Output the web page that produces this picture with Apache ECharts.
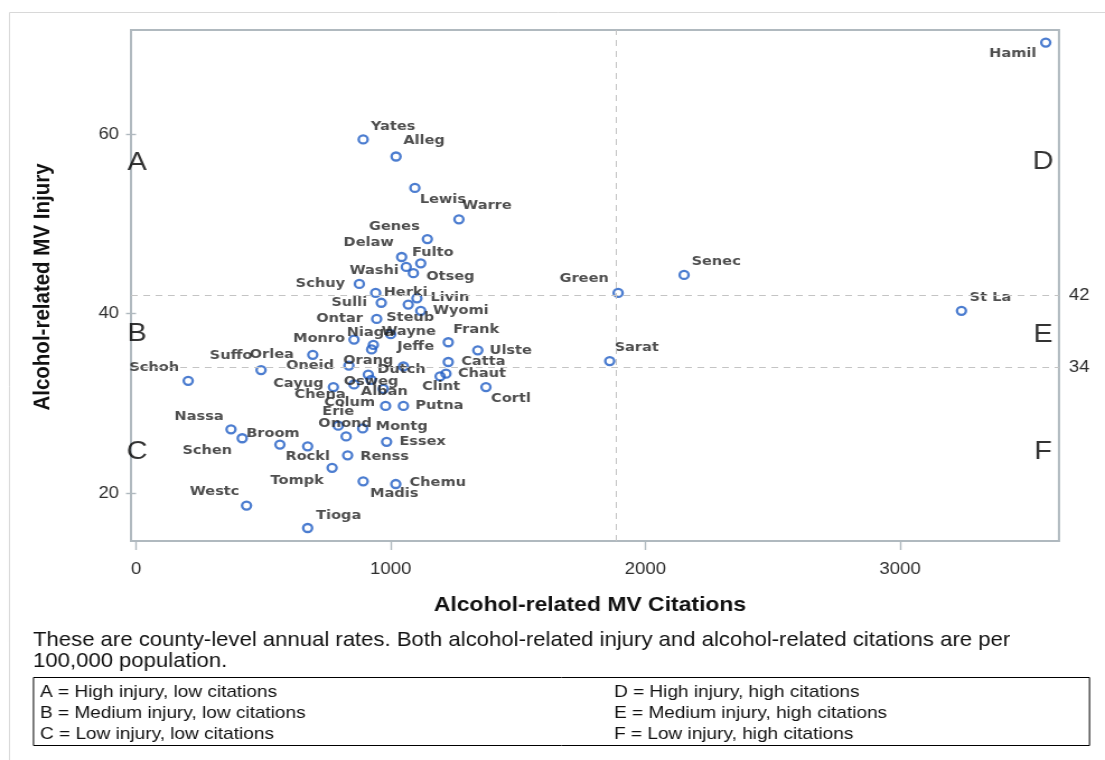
<!DOCTYPE html>
<html>
<head>
<meta charset="utf-8">
<script src="https://cdn.jsdelivr.net/npm/echarts@6/dist/echarts.min.js"></script>
<style>
  html, body { margin: 0; padding: 0; background: #fff; overflow: hidden; }
  /* The figure is drawn on a narrower canvas and widened, giving the wide lettering and oval markers */
  #chart { width: 987px; height: 760px; transform: scaleX(1.119554); transform-origin: 0 0; }
</style>
</head>
<body>
<div id="chart"></div>
<script>
// County abbreviations (New York State counties)
const counties = [
  'Hamil', 'Yates', 'Alleg', 'Lewis', 'Warre', 'Genes', 'Delaw', 'Fulto', 'Washi', 'Otseg',
  'Schuy', 'Herki', 'Livin', 'Sulli', 'Steub', 'Wyomi', 'Ontar', 'Monro', 'Wayne', 'Niaga',
  'Jeffe', 'Frank', 'Ulste', 'Orlea', 'Suffo', 'Schoh', 'Oneid', 'Orang', 'Dutch', 'Catta',
  'Chaut', 'Clint', 'Cortl', 'Osweg', 'Cayug', 'Chena', 'Alban', 'Colum', 'Putna', 'Erie',
  'Onond', 'Montg', 'Nassa', 'Schen', 'Broom', 'Rockl', 'Essex', 'Renss', 'Tompk', 'Madis',
  'Chemu', 'Westc', 'Tioga', 'Green', 'Senec', 'St La', 'Sarat'
];

// Alcohol-related MV citations per 100,000 population
const citations = [
  3572, 892, 1021, 1095, 1268, 1144, 1043, 1118, 1061, 1089,
  877, 941, 1103, 963, 1069, 1118, 945, 856, 1000, 932,
  925, 1226, 1342, 694, 491, 205, 836, 912, 1050, 1226,
  1217, 1194, 1374, 923, 775, 856, 971, 980, 1050, 794,
  825, 890, 373, 417, 565, 674, 984, 831, 770, 892,
  1020, 434, 674, 1893, 2152, 3241, 1860
];

// Alcohol-related MV injury per 100,000 population
const injury = [
  70.2, 59.4, 57.5, 54.0, 50.5, 48.3, 46.3, 45.6, 45.2, 44.5,
  43.3, 42.3, 41.7, 41.2, 41.0, 40.3, 39.4, 37.1, 37.7, 36.5,
  36.0, 36.8, 35.9, 35.4, 33.7, 32.5, 34.2, 33.2, 34.1, 34.6,
  33.3, 33.0, 31.8, 32.6, 31.8, 32.1, 31.6, 29.7, 29.7, 27.5,
  26.3, 27.2, 27.1, 26.1, 25.4, 25.2, 25.7, 24.2, 22.8, 21.3,
  21.0, 18.6, 16.1, 42.3, 44.3, 40.3, 34.7
];

// Where each county name sits relative to its marker (screen px)
const labelShift = [
  [-33, 11], [30, -13], [28, -16], [28, 12], [28, -14], [-33, -12], [-33, -14], [12, -11], [-32, 4], [37, 3],
  [-39, 0], [30, 0], [33, -1], [-32, 0], [2, 13], [40, 0], [-37, 0], [-35, -1], [18, -3], [-3, -12],
  [44, -3], [28, -13], [33, 0], [-41, 0], [-30, -14], [-34, -13], [-39, 0], [0, -14], [-2, 3], [35, 0],
  [36, 0], [1, 10], [25, 12], [0, 2], [-35, -3], [-34, 10], [1, 3], [-36, -3], [36, 0], [0, -14],
  [-1, -13], [39, -2], [-32, -13], [-35, 12], [-7, -11], [0, 10], [36, 0], [37, 1], [-35, 13], [31, 12],
  [42, -1], [-32, -14], [31, -12], [-34, -14], [32, -13], [29, -13], [27, -13]
];

const xTicks = [0, 1000, 2000, 3000];
const yTicks = [20, 40, 60];
const injuryCutoffs = [42, 34];
const citationCutoff = 1885;

// Quadrant letters and their anchor values
const quadrantLetters = ['A', 'B', 'C', 'D', 'E', 'F'];
const quadrantCitations = [4, 4, 4, 3561, 3561, 3561];
const quadrantInjury = [56.8, 37.7, 24.6, 56.9, 37.6, 24.6];

const captionLines = [
  'These are county-level annual rates. Both alcohol-related injury and alcohol-related citations are per',
  '100,000 population.'
];
const legendLeft = [
  'A = High injury, low citations',
  'B = Medium injury, low citations',
  'C = Low injury, low citations'
];
const legendRight = [
  'D = High injury, high citations',
  'E = Medium injury, high citations',
  'F = Low injury, high citations'
];

const X_MIN = -19.6, X_MAX = 3624;
const Y_MIN = 14.65, Y_MAX = 71.6;

// horizontal widening applied by the stylesheet
const STRETCH = 1105 / 987;
const px = v => v / STRETCH;

const frameColor = '#b0b9bf';
const tickText = '#2e2e2e';
const markerBlue = '#1f5dc4';
const labelFont = 'DejaVu Sans';
const textFont = 'Liberation Sans';

const pointData = counties.map((name, i) => ({
  name: name,
  value: [citations[i], injury[i]]
}));

const letterData = quadrantLetters.map((t, i) => ({
  name: t,
  value: [quadrantCitations[i], quadrantInjury[i]]
}));

const chart = echarts.init(document.getElementById('chart'), null, { renderer: 'canvas' });

const legendTexts = [];
legendLeft.forEach((t, i) => legendTexts.push({
  type: 'text', x: px(40), y: 692 + i * 21,
  style: { text: t, font: '17px "' + textFont + '"', fill: '#111', verticalAlign: 'middle' }
}));
legendRight.forEach((t, i) => legendTexts.push({
  type: 'text', x: px(614), y: 692 + i * 21,
  style: { text: t, font: '17px "' + textFont + '"', fill: '#111', verticalAlign: 'middle' }
}));

chart.setOption({
  animation: false,
  backgroundColor: '#ffffff',
  grid: {
    left: px(131), right: 987 - px(1059), top: 30, bottom: 219,
    show: true, borderColor: frameColor, borderWidth: 2, backgroundColor: '#ffffff'
  },
  xAxis: {
    type: 'value', min: X_MIN, max: X_MAX,
    axisLine: { show: false },
    splitLine: { show: false },
    axisTick: { show: true, length: 9, customValues: xTicks, lineStyle: { color: frameColor, width: 1.4 } },
    axisLabel: {
      customValues: xTicks, margin: 20, color: tickText, fontSize: 16.5, fontFamily: textFont,
      formatter: v => String(v)
    }
  },
  yAxis: [{
    type: 'value', min: Y_MIN, max: Y_MAX, position: 'left',
    axisLine: { show: false },
    splitLine: { show: false },
    axisTick: { show: true, length: px(10), customValues: yTicks, lineStyle: { color: frameColor, width: 1.4 } },
    axisLabel: {
      customValues: yTicks, margin: px(12), color: tickText, fontSize: 16.5, fontFamily: textFont,
      formatter: v => String(v)
    }
  }, {
    type: 'value', min: Y_MIN, max: Y_MAX, position: 'right',
    axisLine: { show: false },
    splitLine: { show: false },
    axisTick: { show: false },
    axisLabel: {
      customValues: injuryCutoffs, margin: px(10), color: tickText, fontSize: 16.5, fontFamily: textFont,
      formatter: v => String(v)
    }
  }],
  series: [{
    type: 'scatter',
    name: 'Counties',
    data: pointData,
    symbol: 'circle',
    symbolSize: 8,
    clip: false,
    itemStyle: { color: 'rgba(0,0,0,0)', borderColor: markerBlue, borderWidth: 2.3 },
    label: {
      show: true, position: 'inside', formatter: '{b}',
      align: 'center', verticalAlign: 'middle',
      fontFamily: labelFont, fontWeight: 'bold', fontSize: 13, color: '#222222'
    },
    labelLayout: function (params) {
      const s = labelShift[params.dataIndex];
      if (!s) { return { hideOverlap: false }; }
      return { dx: px(s[0]), dy: s[1], hideOverlap: false };
    },
    markLine: {
      silent: true, symbol: ['none', 'none'], label: { show: false },
      lineStyle: { color: '#c4c4c4', type: [6, 5], width: 1 },
      data: injuryCutoffs.map(v => ({ yAxis: v })).concat([{ xAxis: citationCutoff }])
    },
    z: 3
  }, {
    type: 'scatter',
    name: 'Quadrants',
    data: letterData,
    symbolSize: 0,
    silent: true,
    label: {
      show: true, position: 'inside', formatter: '{b}',
      align: 'center', verticalAlign: 'middle',
      fontFamily: textFont, fontSize: 26, color: '#000000'
    },
    z: 2
  }],
  graphic: [
    {
      type: 'rect', silent: true,
      shape: { x: px(9.5), y: 12.5, width: 1000, height: 800 },
      style: { fill: 'none', stroke: '#d8d8d8', lineWidth: 1 }, z: -10
    },
    {
      type: 'text', x: px(590), y: 605,
      style: { text: 'Alcohol-related MV Citations', font: 'bold 20.5px "' + textFont + '"', fill: '#111', align: 'center', verticalAlign: 'middle' }
    },
    {
      type: 'text', x: px(43), y: 287, rotation: Math.PI / 2,
      style: { text: 'Alcohol-related MV Injury', font: 'bold 20.5px "' + textFont + '"', fill: '#111', align: 'center', verticalAlign: 'middle' }
    },
    {
      type: 'text', x: px(33), y: 641,
      style: { text: captionLines[0], font: '19.75px "' + textFont + '"', fill: '#111', verticalAlign: 'middle' }
    },
    {
      type: 'text', x: px(33), y: 662,
      style: { text: captionLines[1], font: '19.75px "' + textFont + '"', fill: '#111', verticalAlign: 'middle' }
    },
    {
      type: 'rect', silent: true,
      shape: { x: px(33.5), y: 677.5, width: px(1056), height: 68 },
      style: { fill: 'none', stroke: '#000', lineWidth: 1 }
    }
  ].concat(legendTexts)
});
</script>
</body>
</html>
